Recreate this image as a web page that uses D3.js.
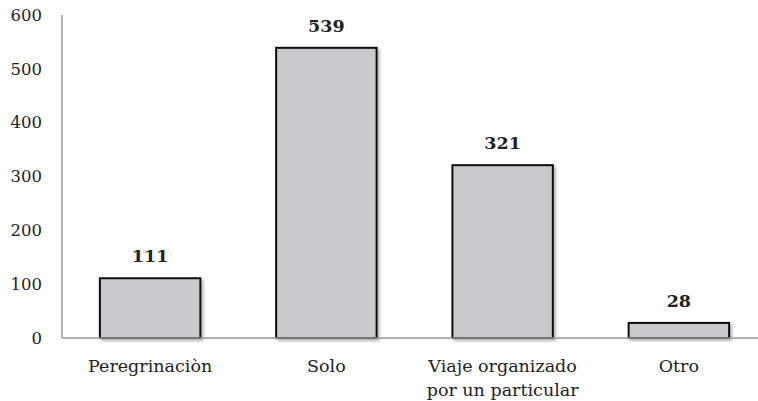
<!DOCTYPE html>
<html>
<head>
<meta charset="utf-8">
<script src="https://cdn.jsdelivr.net/npm/d3@7"></script>
<style>
  html, body { margin: 0; padding: 0; background: #fff; }
  svg { display: block; }
  text { font-family: "DejaVu Serif", serif; fill: #222; }
</style>
</head>
<body>
<svg id="chart" width="758" height="401"></svg>
<script>
const categories = ["Peregrinaciòn", "Solo", "Viaje organizado|por un particular", "Otro"];
const values = [111, 539, 321, 28];
const yTicks = [0, 100, 200, 300, 400, 500, 600];

const svg = d3.select("#chart");
const plotLeft = 62, plotRight = 767, plotTop = 15, plotBottom = 338;

const x = d3.scaleBand().domain(categories).range([plotLeft, plotRight]).paddingInner(0.43).paddingOuter(0.215);
const y = d3.scaleLinear().domain([0, 600]).range([plotBottom, plotTop]);

const defs = svg.append("defs");
const f = defs.append("filter").attr("id", "shadow").attr("x", "-10%").attr("y", "-10%").attr("width", "130%").attr("height", "130%");
f.append("feDropShadow").attr("dx", 2).attr("dy", 2).attr("stdDeviation", 1.5).attr("flood-color", "#000").attr("flood-opacity", 0.3);

// vertical axis line
svg.append("line").attr("x1", plotLeft).attr("x2", plotLeft).attr("y1", plotTop).attr("y2", plotBottom)
  .attr("stroke", "#999").attr("stroke-width", 1.5);

// y tick labels
svg.append("g").selectAll("text").data(yTicks).join("text")
  .attr("x", 42).attr("y", d => y(d)).attr("dy", "0.35em")
  .attr("text-anchor", "end").attr("font-size", 16.5).text(d => d);

// bars
svg.append("g").selectAll("rect").data(values).join("rect")
  .attr("x", (d, i) => x(categories[i]))
  .attr("y", d => y(d))
  .attr("width", x.bandwidth())
  .attr("height", d => y(0) - y(d))
  .attr("fill", "#c8c9cb").attr("stroke", "#111").attr("stroke-width", 2)
  .attr("filter", "url(#shadow)");

// baseline
svg.append("line").attr("x1", plotLeft).attr("x2", 758).attr("y1", plotBottom).attr("y2", plotBottom)
  .attr("stroke", "#999").attr("stroke-width", 1.5);

// value labels
svg.append("g").selectAll("text").data(values).join("text")
  .attr("x", (d, i) => x(categories[i]) + x.bandwidth() / 2)
  .attr("y", d => y(d) - 16)
  .attr("text-anchor", "middle").attr("font-size", 17.5).attr("font-weight", "bold")
  .text(d => d);

// category labels
const cl = svg.append("g").selectAll("text").data(categories).join("text")
  .attr("x", d => x(d) + x.bandwidth() / 2)
  .attr("y", 372)
  .attr("text-anchor", "middle").attr("font-size", 17.5);
cl.each(function(d) {
  const parts = d.split("|");
  const t = d3.select(this);
  parts.forEach((p, i) => {
    t.append("tspan").attr("x", t.attr("x")).attr("dy", i === 0 ? 0 : 24).text(p);
  });
});
</script>
</body>
</html>
